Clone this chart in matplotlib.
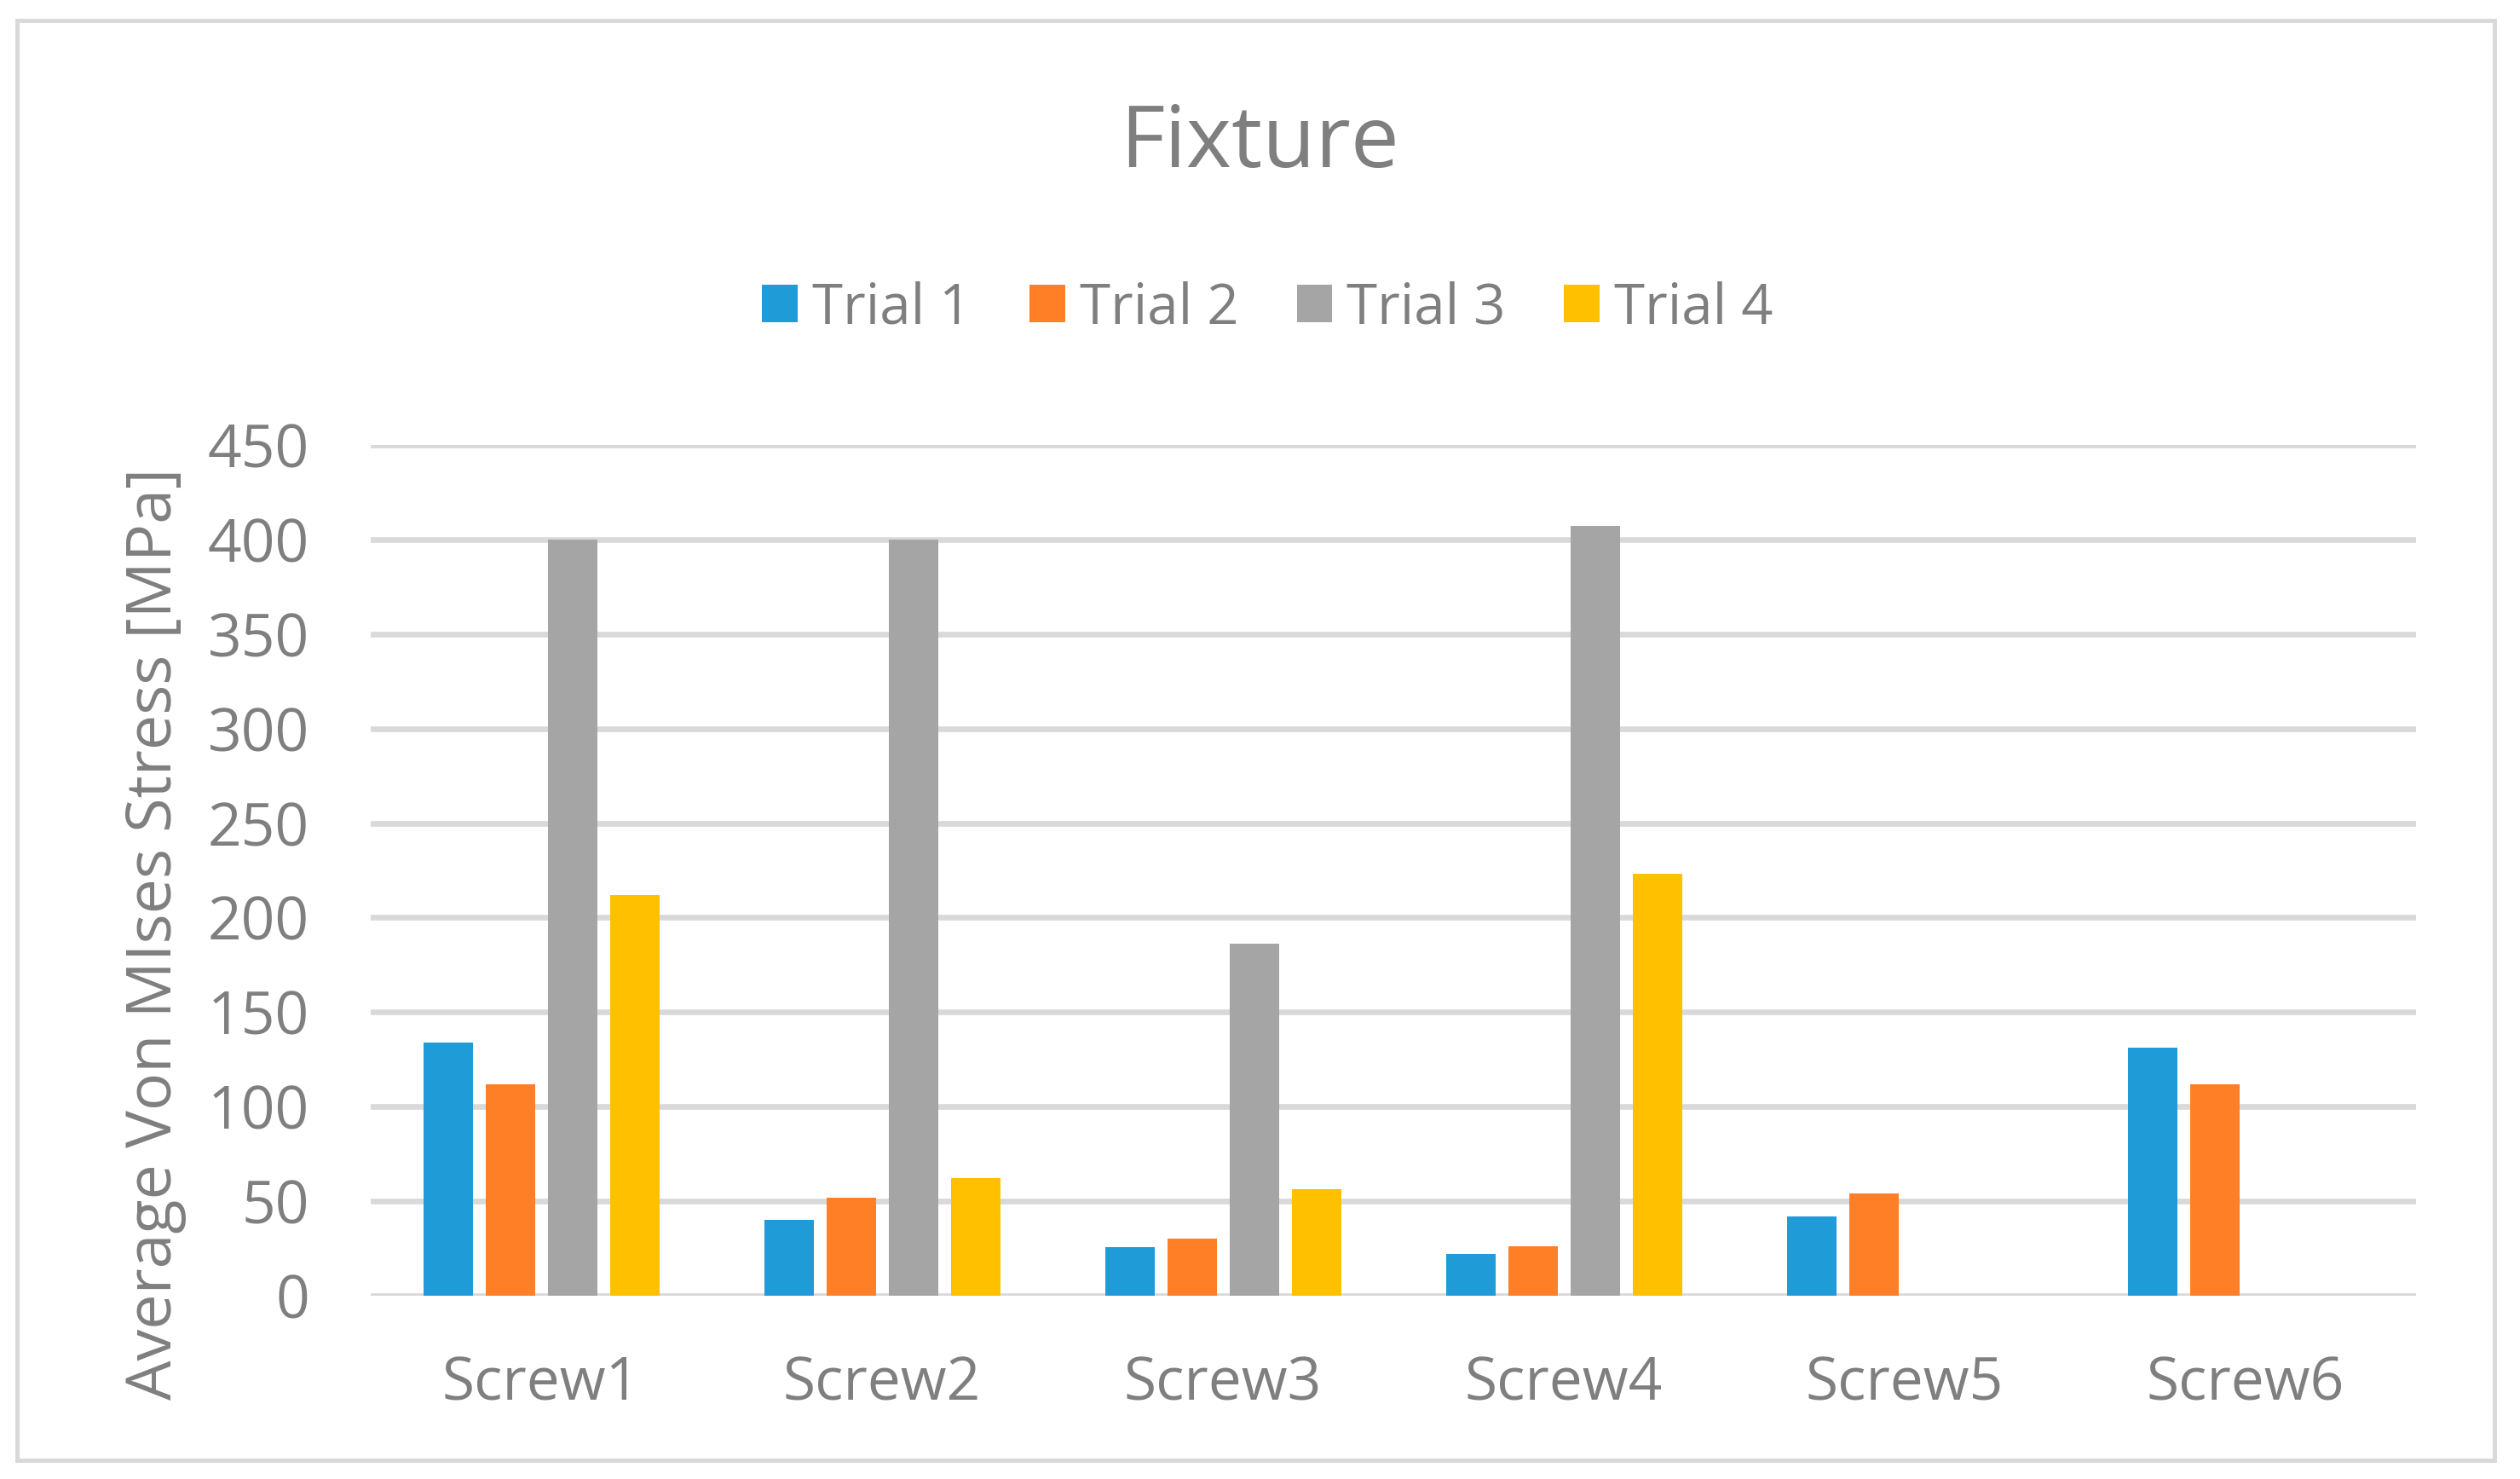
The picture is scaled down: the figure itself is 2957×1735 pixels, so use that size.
import numpy as np
import matplotlib
matplotlib.use('Agg')
import matplotlib.pyplot as plt
from matplotlib.patches import Rectangle

# data
screws = ['Screw1', 'Screw2', 'Screw3', 'Screw4', 'Screw5', 'Screw6']
trial_names = ['Trial 1', 'Trial 2', 'Trial 3', 'Trial 4']
trial1 = [134, 40, 25.5, 22, 42, 131]
trial2 = [112, 52, 30, 26, 54, 112]
trial3 = [400, 400, 186, 407, np.nan, np.nan]
trial4 = [212, 62, 56.5, 223, np.nan, np.nan]
yticks = [0, 50, 100, 150, 200, 250, 300, 350, 400, 450]

colors = ['#1F9BD7', '#FF7F27', '#A5A5A5', '#FFC000']
txt = '#7F7F7F'
grid = '#D9D9D9'

plt.rcParams['font.family'] = ['Open Sans', 'DejaVu Sans']

W, H = 2957, 1735
fig = plt.figure(figsize=(W / 100, H / 100), dpi=100)
ax = fig.add_axes([435 / W, (H - 1520) / H, 2400 / W, 998 / H])

x = np.arange(len(screws))
step = 0.1825
width = 0.145
handles = []
for i, vals in enumerate([trial1, trial2, trial3, trial4]):
    b = ax.bar(x + (i - 1.5) * step, vals, width, color=colors[i],
               label=trial_names[i], zorder=3)
    handles.append(b)

ax.set_xlim(-0.5, len(screws) - 0.5)
ax.set_ylim(0, 450)
ax.set_yticks(yticks)
ax.set_xticks(x)
ax.set_xticklabels(screws)
ax.yaxis.grid(True, color=grid, linewidth=4.8, zorder=0)
ax.set_axisbelow(True)
for s in ax.spines.values():
    s.set_visible(False)
ax.tick_params(axis='both', length=0, labelsize=50, colors=txt)
ax.tick_params(axis='x', pad=50)
ax.tick_params(axis='y', pad=52)
for lab in ax.get_xticklabels() + ax.get_yticklabels():
    lab.set_color(txt)

fig.text(0.5, 1 - 196 / H, 'Fixture', ha='center', va='baseline',
         fontsize=73, color=txt)
fig.text(182 / W, 1 - 1095 / H, 'Average Von MIses Stress [MPa]', rotation=90,
         ha='center', va='center', fontsize=53, color=txt)

fig.legend(handles=handles, labels=trial_names, loc='center',
           bbox_to_anchor=(0.503, 1 - 362 / H), ncol=4, frameon=False,
           fontsize=47, labelcolor=txt, handlelength=0.64,
           handleheight=0.64, handletextpad=0.26, columnspacing=1.05)

# outer chart border
fig.patches.append(Rectangle((20 / W, (H - 1713) / H), 2907 / W, 1689 / H,
                             transform=fig.transFigure, fill=False,
                             edgecolor=grid, linewidth=3.6))

fig.savefig('out.png', dpi=100)
